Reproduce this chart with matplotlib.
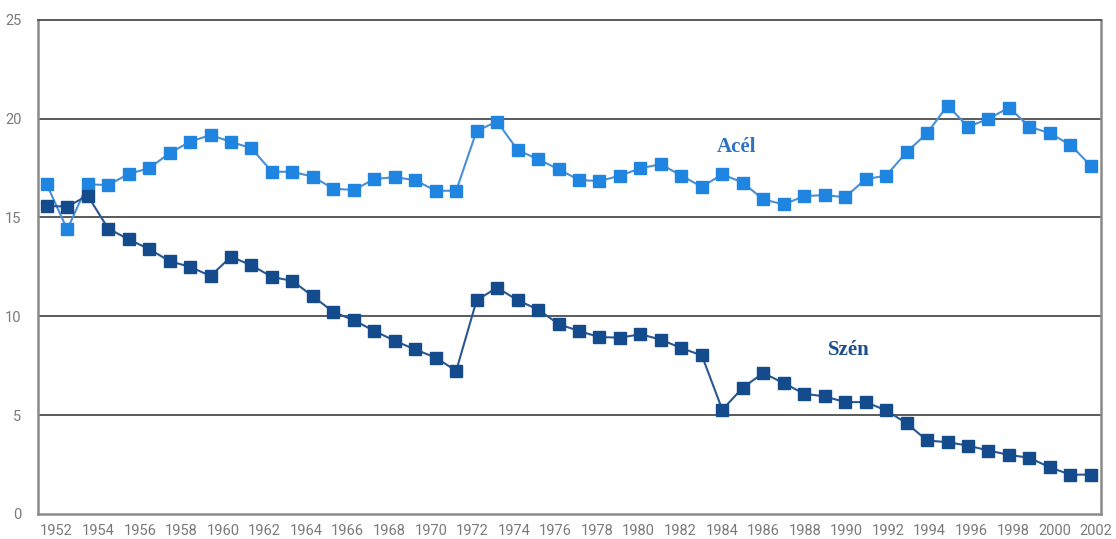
import matplotlib
matplotlib.use('Agg')
import matplotlib.pyplot as plt

# years 1951..2002, one value per year
years = list(range(1951, 2003))

acel = [16.67, 14.39, 16.67, 16.64, 17.20, 17.49, 18.25, 18.83, 19.17, 18.82,
        18.50, 17.31, 17.31, 17.06, 16.45, 16.39, 16.94, 17.04, 16.88, 16.35,
        16.35, 19.38, 19.85, 18.41, 17.94, 17.44, 16.89, 16.84, 17.11, 17.49,
        17.69, 17.11, 16.55, 17.18, 16.76, 15.91, 15.66, 16.08, 16.13, 16.02,
        16.94, 17.11, 18.30, 19.26, 20.66, 19.59, 19.98, 20.56, 19.59, 19.26,
        18.67, 17.62]

szen = [15.58, 15.55, 16.10, 14.44, 13.89, 13.40, 12.79, 12.50, 12.04, 13.01,
        12.58, 11.99, 11.79, 11.01, 10.22, 9.80, 9.26, 8.76, 8.32, 7.91,
        7.24, 10.81, 11.45, 10.81, 10.34, 9.61, 9.25, 8.95, 8.92, 9.09,
        8.82, 8.39, 8.02, 5.27, 6.39, 7.13, 6.62, 6.08, 5.95, 5.66,
        5.66, 5.24, 4.59, 3.72, 3.63, 3.46, 3.21, 2.99, 2.84, 2.36,
        1.99, 1.99]

xtick_years = list(range(1952, 2003, 2))
ytick_vals = [0, 5, 10, 15, 20, 25]

fig = plt.figure(figsize=(11.16, 5.39), dpi=100)
ax = fig.add_axes([0.034, 0.0464, 0.9526, 0.917])

ax.plot(years, acel, color='#4a8fd6', lw=1.5, marker='s', markersize=8,
        markerfacecolor='#1f85e0', markeredgecolor='#1f85e0', zorder=3)
ax.plot(years, szen, color='#2a5694', lw=1.5, marker='s', markersize=8,
        markerfacecolor='#144b8c', markeredgecolor='#144b8c', zorder=3)

ax.set_xlim(1950.57, 2002.5)
ax.set_ylim(0, 25)
ax.set_xticks([])
ax.set_yticks(ytick_vals)

# the year labels in the original sit on their own (slightly different) scale
lab_ax = ax.twiny()
lab_ax.set_xlim(1951.10, 2002.24)
lab_ax.set_xticks(xtick_years)
lab_ax.set_xticklabels([str(y) for y in xtick_years])
lab_ax.xaxis.set_ticks_position('bottom')
lab_ax.xaxis.set_label_position('bottom')
lab_ax.tick_params(length=0, labelsize=10.5, labelcolor='#7a7a7a', pad=7)
for side in ['left', 'right', 'bottom', 'top']:
  lab_ax.spines[side].set_visible(False)

for v in ytick_vals[1:-1]:
  ax.axhline(v, color='#4d4d4d', lw=1.3, zorder=1)

for side in ['left', 'right', 'bottom', 'top']:
  ax.spines[side].set_color('#8a8a8a')
  ax.spines[side].set_linewidth(1.8)
ax.spines['top'].set_color('#4d4d4d')
ax.spines['top'].set_linewidth(1.3)

ax.tick_params(length=0, labelsize=10.5, labelcolor='#7a7a7a', pad=12)
for lab in ax.get_yticklabels() + lab_ax.get_xticklabels():
  lab.set_family('Roboto')

ax.text(1984.7, 18.57, 'Acél', color='#2f72c2', fontsize=15, fontweight='bold',
        family='Liberation Serif', ha='center', va='center')
ax.text(1990.2, 8.28, 'Szén', color='#1c4f8f', fontsize=15, fontweight='bold',
        family='Liberation Serif', ha='center', va='center')

plt.savefig('out.png', dpi=100)
plt.close('all')
